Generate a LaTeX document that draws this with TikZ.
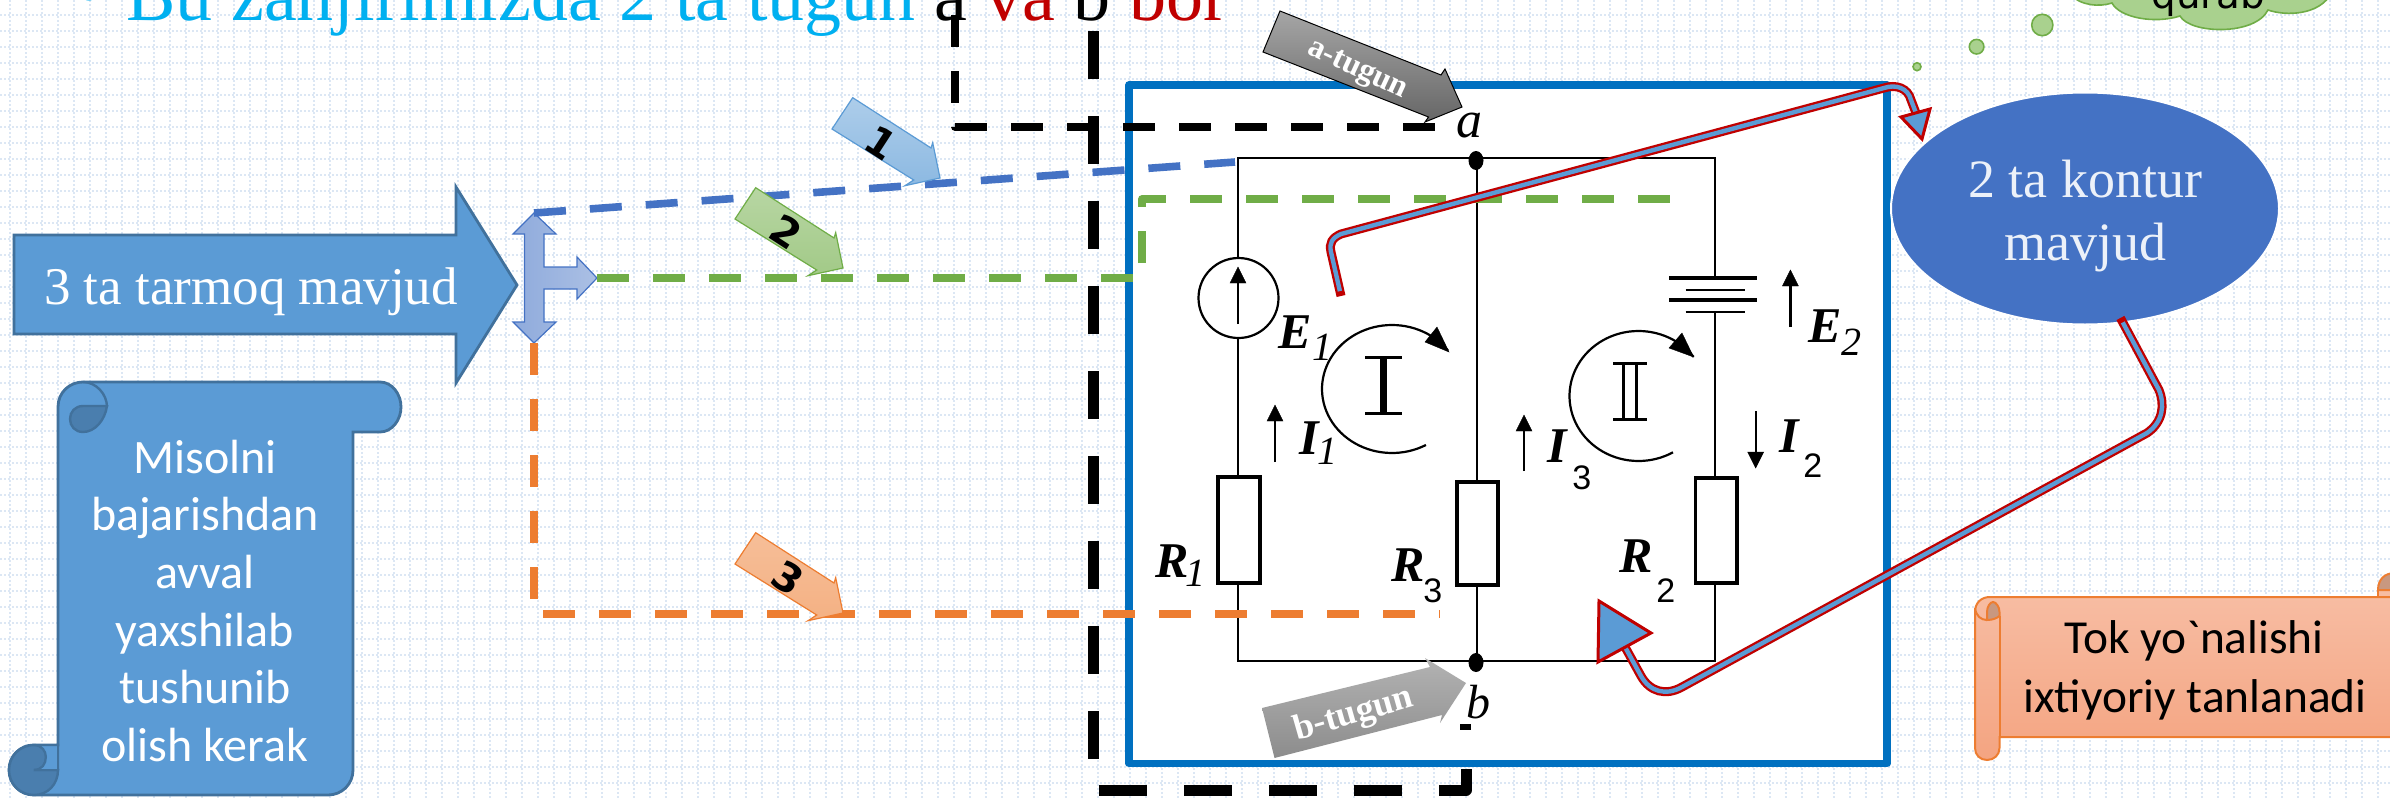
\documentclass[tikz,border=0pt]{standalone}
\usepackage{fontspec}
\setmainfont{Liberation Serif}
\newfontfamily\tms{Liberation Serif}
\newfontfamily\cbr{Carlito}
\newfontfamily\djv{DejaVu Sans}
\newfontfamily\lsn{Liberation Sans}
\definecolor{cGrid}{HTML}{DCE7F4}
\definecolor{cBlue}{HTML}{5B9BD5}
\definecolor{cBlueD}{HTML}{41719C}
\definecolor{cBlueC}{HTML}{4A7EAE}
\definecolor{cRoyal}{HTML}{4472C4}
\definecolor{cGreen}{HTML}{70AD47}
\definecolor{cOrange}{HTML}{ED7D31}
\definecolor{cBox}{HTML}{0070C0}
\definecolor{cRed}{HTML}{C00000}
\definecolor{cCyan}{HTML}{00B0F0}
\definecolor{cCloud}{HTML}{A9D18E}
\definecolor{cCurl}{HTML}{C89880}
\definecolor{cSalmonT}{HTML}{F7BCA2}
\definecolor{cSalmonB}{HTML}{F4A481}
\tikzset{
  wire/.style={draw=black,line width=1.25pt},
  resbox/.style={draw=black,line width=1.6pt,fill=white},
  plate/.style={draw=black,line width=1.8pt},
  plateb/.style={draw=black,line width=1.3pt},
  dashb/.style={dash pattern=on 16pt off 12pt,line width=3.8pt},
  lbl/.style={inner sep=0pt,anchor=base west},
  txt/.style={inner sep=0pt,anchor=base},
  loopl/.style={draw=black,line width=1.1pt},
  cur/.style={draw=black,line width=1.1pt},
  rhead/.style={draw=black,fill=black,line width=.2pt},
  outer/.style={draw=cRed,line width=4.5pt},
  inner/.style={draw=cBlue,line width=2.2pt},
  chead/.style={draw=cRed,fill=cBlue,line width=1.5pt},
  bubble/.style={draw=cGreen,fill=cCloud,line width=.8pt},
  scrollb/.style={draw=cBlueD,fill=cBlue,line width=1.4pt},
  scrollo/.style={draw=cOrange,line width=1pt},
}
\newcommand{\ital}{\tms\bfseries\itshape\fontsize{25pt}{28pt}\selectfont}
\newcommand{\itsub}{\tms\itshape\fontsize{20pt}{22pt}\selectfont}
\newcommand{\snsub}{\lsn\fontsize{17pt}{19pt}\selectfont}
\begin{document}
\begin{tikzpicture}[x=0.5pt,y=-0.5pt]
\useasboundingbox (0,0) rectangle (2390,798);
\clip (0,0) rectangle (2390,798);
\fill[white] (0,0) rectangle (2390,798);
% grid
\foreach \gx in {10,26,...,2390} \draw[cGrid,line width=.75pt,dash pattern=on 1pt off 1pt] (\gx,0) -- (\gx,798);
\foreach \gy in {15,31,...,798} \draw[cGrid,line width=.75pt,dash pattern=on 1pt off 1pt] (0,\gy) -- (2390,\gy);

% title
\node[txt,anchor=base west] (bul) at (76,15) {\lsn\fontsize{37pt}{40pt}\selectfont\textcolor{cCyan}{•}};
\node[txt,anchor=base west] (title) at (126,20) {\fontsize{37pt}{40pt}\selectfont\textcolor{cCyan}{Bu zanjirimizda 2 ta tugun} \textcolor{black}{a} \textcolor{cRed}{va} \textcolor{black}{b} \textcolor{cRed}{bor}};

% cloud
\path[bubble] (2060,-12) -- (2070,-6) .. controls (2080,6) and (2100,7) .. (2112,3) .. controls (2120,18) and (2155,24) .. (2180,16)
  .. controls (2190,34) and (2255,36) .. (2268,10) .. controls (2285,16) and (2320,16) .. (2332,-8) -- (2340,-12) -- cycle;
\node[txt] (qurab) at (2208.5,8) {\djv\fontsize{19.4pt}{22pt}\selectfont qurab};
\path[bubble] (2042.3,25) ellipse [x radius=10.6,y radius=10.7];
\path[bubble] (1976.6,46.7) ellipse [x radius=7.3,y radius=7.3];
\path[bubble] (1917,66.7) ellipse [x radius=4,y radius=4];

% white box
\draw[cBox,fill=white,line width=3.8pt,line join=round] (1129,85) rectangle (1887,763.5);

% circuit wires
\draw[wire] (1238,338) -- (1238,158) -- (1715,158) -- (1715,278);
\draw[wire] (1238,338) -- (1238,661) -- (1715,661) -- (1715,312);
\draw[wire] (1477,158) -- (1477,661);
\path[draw=black,fill=white,line width=1.1pt] (1238.5,298) ellipse [x radius=40,y radius=40];
\path[resbox] (1218,477) rectangle (1260,583);
\path[resbox] (1457,482) rectangle (1498,585);
\path[resbox] (1695.7,478) rectangle (1737,583);
\fill[white] (1669,280) rectangle (1758,310);
\draw[plate] (1669,278) -- (1757,278);
\draw[plateb] (1685.6,290) -- (1745,290);
\draw[plate] (1669,300) -- (1757,300);
\draw[plateb] (1685.6,312) -- (1745,312);
\fill (1476,160.5) ellipse [x radius=7.5,y radius=9.5];
\fill (1476,662.5) ellipse [x radius=7.5,y radius=9.5];
% current arrows
\draw[cur] (1238,324) -- (1238,275);
\path[rhead] (1238,267) -- (1246,283) -- (1230,283) -- cycle;
\draw[cur] (1790.4,327) -- (1790.4,278);
\path[rhead] (1790.4,270) -- (1798.4,286) -- (1782.4,286) -- cycle;
\draw[cur] (1275,462) -- (1275,413);
\path[rhead] (1275,405) -- (1283,421) -- (1267,421) -- cycle;
\draw[cur] (1524,471) -- (1524,423);
\path[rhead] (1524,415) -- (1532,431) -- (1516,431) -- cycle;
\draw[cur] (1755.7,411) -- (1755.7,460);
\path[rhead] (1755.7,468) -- (1763.7,452) -- (1747.7,452) -- cycle;
% loops
\draw[loopl] plot[domain=61:323,samples=70] ({1392+70*cos(\x)},{389+64*sin(\x)});
\path[rhead] (1449,352) -- (1437,327) -- (1425,342) -- cycle;
\draw[loopl] plot[domain=60:323,samples=70] ({1638.5+69*cos(\x)},{396+65*sin(\x)});
\path[rhead] (1693.6,357) -- (1682,333) -- (1669,348) -- cycle;
% roman
\draw[black,line width=1.5pt] (1365,357) -- (1402,357) (1365,413) -- (1402,413);
\draw[black,line width=3.5pt] (1383.6,357) -- (1383.6,413);
\draw[black,line width=1.5pt] (1613,363) -- (1647,363) (1613,419) -- (1647,419);
\draw[black,line width=1.5pt] (1623.5,363) -- (1623.5,419) (1636.6,363) -- (1636.6,419);
% labels
\node[lbl] (e1) at (1278,348) {\ital E};
\node[lbl] (e1s) at (1312,360) {\itsub 1};
\node[lbl] (i1) at (1299,454) {\ital I};
\node[lbl] (i1s) at (1317,464) {\itsub 1};
\node[lbl] (i3) at (1547,462) {\ital I};
\node[lbl] (i3s) at (1572,489) {\snsub 3};
\node[lbl] (i2) at (1779,452) {\ital I};
\node[lbl] (i2s) at (1803,477) {\snsub 2};
\node[lbl] (e2) at (1808,342) {\ital E};
\node[lbl] (e2s) at (1841,355) {\itsub 2};
\node[lbl] (r1) at (1155,577) {\ital R};
\node[lbl] (r1s) at (1185,586) {\itsub 1};
\node[lbl] (r3) at (1391,581) {\ital R};
\node[lbl] (r3s) at (1423,602) {\snsub 3};
\node[lbl] (r2) at (1619,572) {\ital R};
\node[lbl] (r2s) at (1656,602) {\snsub 2};
\node[lbl] (na) at (1456,137) {\tms\itshape\fontsize{26pt}{28pt}\selectfont a};
\node[lbl] (nb) at (1466,718) {\tms\itshape\fontsize{24pt}{28pt}\selectfont b};
\fill (1460,724) rectangle (1471,730);

% big arrow
\path[draw=cBlueD,fill=cBlue,line width=1.4pt,line join=miter] (14,235) -- (456,235) -- (456,187) -- (517,285) -- (456,383) -- (456,334) -- (14,334) -- cycle;
\node[txt] (tar) at (251,304) {\tms\color{white}\fontsize{26.5pt}{30pt}\selectfont 3 ta tarmoq mavjud};

% three way arrow
\path[draw=cRoyal,left color=cRoyal!60!white,right color=cRoyal!45!white,line width=.6pt] (534,213) -- (556,234) -- (544,234) -- (544,267) -- (577,267) -- (577,257) -- (597,278) -- (577,299) -- (577,289) -- (544,289) -- (544,322) -- (556,322) -- (534,343) -- (513,322) -- (524.5,322) -- (524.5,234) -- (513,234) -- cycle;

% scroll (vertical)
\path[scrollb] (58,407) .. controls (58,392) and (70,382) .. (83,382) -- (380,382) .. controls (392,382) and (401,394) .. (401,407)
  .. controls (401,420) and (392,432) .. (380,432) -- (353,432) -- (353,770) .. controls (353,784) and (342,795) .. (328,795)
  -- (34,795) .. controls (20,795) and (9,784) .. (9,770) .. controls (9,756) and (20,745) .. (34,745) -- (58,745) -- cycle;
\path[draw=cBlueD,fill=cBlueC,line width=1.2pt] (83,432) .. controls (75,432) and (70,426) .. (70,419) .. controls (70,412) and (75,406) .. (83,406) -- (107,406) .. controls (105,420) and (95,432) .. (83,432) -- cycle;
\draw[cBlueD,line width=1.2pt] (83,382) .. controls (96,382) and (107,394) .. (107,407);
\path[draw=cBlueD,fill=cBlueC,line width=1.2pt] (34,745) .. controls (20,745) and (9,756) .. (9,770) .. controls (9,784) and (20,795) .. (34,795) .. controls (48,795) and (58,784) .. (58,770) -- (34,770) .. controls (42,770) and (46,764) .. (46,757) .. controls (46,751) and (42,745) .. (34,745) -- cycle;
\path[draw=cBlueD,fill=cBlue,line width=1pt] (34,745) -- (58,745) -- (58,770) -- (34,770) .. controls (42,770) and (46,764) .. (46,757) .. controls (46,751) and (42,745) .. (34,745) -- cycle;
\node[txt] (s1) at (205,473) {\cbr\color{white}\fontsize{24pt}{26pt}\selectfont Misolni};
\node[txt] (s2) at (205,530) {\cbr\color{white}\fontsize{24pt}{26pt}\selectfont bajarishdan};
\node[txt] (s3) at (205,588) {\cbr\color{white}\fontsize{24pt}{26pt}\selectfont avval};
\node[txt] (s4) at (205,646) {\cbr\color{white}\fontsize{24pt}{26pt}\selectfont yaxshilab};
\node[txt] (s5) at (205,703) {\cbr\color{white}\fontsize{24pt}{26pt}\selectfont tushunib};
\node[txt] (s6) at (205,761) {\cbr\color{white}\fontsize{24pt}{26pt}\selectfont olish kerak};

% ellipse
\path[draw=white,fill=cRoyal,line width=1pt] (2085,208.5) ellipse [x radius=194,y radius=116];
\node[txt] (k1) at (2085,197) {\tms\color{white!90!cRoyal}\fontsize{27pt}{30pt}\selectfont 2 ta kontur};
\node[txt] (k2) at (2085,260) {\tms\color{white!90!cRoyal}\fontsize{27pt}{30pt}\selectfont mavjud};

% orange scroll
\path[scrollo,top color=cSalmonT,bottom color=cSalmonB] (1990,597) -- (2395,597) -- (2395,737) -- (1999.5,737) -- (1999.5,748) .. controls (1999.5,755) and (1994,760) .. (1987,760) .. controls (1980,760) and (1975,755) .. (1975,748) -- (1975,612) .. controls (1975,603) and (1981,597) .. (1990,597) -- cycle;
\path[scrollo,fill=cCurl] (1999.5,612) .. controls (1999.5,607) and (1996,602) .. (1993,602) .. controls (1990,602) and (1987,607) .. (1987,612) -- (1987,620) .. controls (1993,620) and (1997,618) .. (1999.5,616) -- cycle;
\draw[scrollo] (1975,608) .. controls (1976,616) and (1981,620) .. (1987,620);
\draw[scrollo] (1999.5,616) -- (1999.5,737);
\path[scrollo,fill=cSalmonT] (2378,597) -- (2378,588) -- (2395,588) -- (2395,597) -- cycle;
\path[scrollo,fill=cCurl] (2378,590) .. controls (2378,580) and (2384,573) .. (2395,573) -- (2395,590) -- cycle;
\node[txt] (o1) at (2194,653) {\cbr\color{black}\fontsize{23.7pt}{26pt}\selectfont Tok yo`nalishi};
\node[txt] (o2) at (2195,712) {\cbr\color{black}\fontsize{23.7pt}{26pt}\selectfont ixtiyoriy tanlanadi};

% dashed branches
\coordinate (t1) at (534,213);
\coordinate (t2) at (597,278);
\coordinate (t3) at (534,343);
\draw[cRoyal,dashb] (t1) -- (1235,162);
\draw[cGreen,dashb,line join=round] (t2) -- (1142,278) -- (1142,199) -- (1671,199);
\draw[cOrange,dashb,line join=round] (t3) -- (534,614) -- (1440,614);
\draw[black,dashb,line join=round] (955,-41) -- (955,127) -- (1435,127);
\draw[black,dash pattern=on 24pt off 18.5pt,line width=5.5pt,line join=round] (1093,31) -- (1093,790) -- (1466,790) -- (1466,767);

% number arrows
\begin{scope}[shift={(97,-90)}]
\path[draw=cBlue,top color=cBlue!50!white,bottom color=cBlue!70!white,line width=.6pt] (755.7,187.7) -- (834,238) -- (835.7,232.7) -- (843,268) -- (808,275.7) -- (816.7,270) -- (735,219) -- cycle;
\node[rotate=-33] (n1) at (784,233) {\djv\bfseries\fontsize{20pt}{22pt}\selectfont 1};
\end{scope}
\path[draw=cGreen,top color=cGreen!50!white,bottom color=cGreen!65!white,line width=.6pt] (755.7,187.7) -- (834,238) -- (835.7,232.7) -- (843,268) -- (808,275.7) -- (816.7,270) -- (735,219) -- cycle;
\node[rotate=-33] (n2) at (786,232) {\djv\bfseries\fontsize{20pt}{22pt}\selectfont 2};
\begin{scope}[shift={(0,345)}]
\path[draw=cOrange,top color=cOrange!50!white,bottom color=cOrange!60!white,line width=.6pt] (755.7,187.7) -- (834,238) -- (835.7,232.7) -- (843,268) -- (808,275.7) -- (816.7,270) -- (735,219) -- cycle;
\node[rotate=-33] (n3) at (788,233) {\djv\bfseries\fontsize{20pt}{22pt}\selectfont 3};
\end{scope}

% gray arrows
\path[draw=black,line width=.5pt,top color=black!35,bottom color=black!60] (1280,11) -- (1441,75) -- (1445,69) -- (1462,107) -- (1425,122) -- (1428.5,117) -- (1263,52) -- cycle;
\node[rotate=-25] (ta) at (1357,71) {\tms\bfseries\color{white}\fontsize{16pt}{18pt}\selectfont a-tugun};
\path[top color=black!30,bottom color=black!45] (1262,708) -- (1430,667) -- (1425,658) -- (1466,683) -- (1440,723) -- (1442,715) -- (1274.5,758) -- cycle;
\node[rotate=16] (tb) at (1354,715) {\tms\bfseries\color{white}\fontsize{18pt}{20pt}\selectfont b-tugun};

% connectors
\coordinate (ca1) at (1341,296);
\coordinate (ca2) at (1916,113);
\coordinate (cb1) at (2120.4,318);
\coordinate (cb2) at (1625,647);
\draw[outer] (ca1) -- (1331,252) .. controls (1329,243) and (1332,238) .. (1341,234) -- (1884,88) .. controls (1896,84) and (1908,88) .. (1911,100) -- (ca2);
\draw[inner,shorten <=2.5pt] (ca1) -- (1331,252) .. controls (1329,243) and (1332,238) .. (1341,234) -- (1884,88) .. controls (1896,84) and (1908,88) .. (1911,100) -- (ca2);
\path[chead] (1922,139) -- (1901,117) -- (1930,109) -- cycle;
\draw[outer] (cb1) -- (2159,390) .. controls (2165,405) and (2163,422) .. (2147,433) -- (1682,687) .. controls (1666,696) and (1650,692) .. (1641,676) -- (cb2);
\draw[inner,shorten <=2.5pt] (cb1) -- (2159,390) .. controls (2165,405) and (2163,422) .. (2147,433) -- (1682,687) .. controls (1666,696) and (1650,692) .. (1641,676) -- (cb2);
\path[chead] (1599,601) -- (1651,633) -- (1598,662) -- cycle;
\end{tikzpicture}
\end{document}
